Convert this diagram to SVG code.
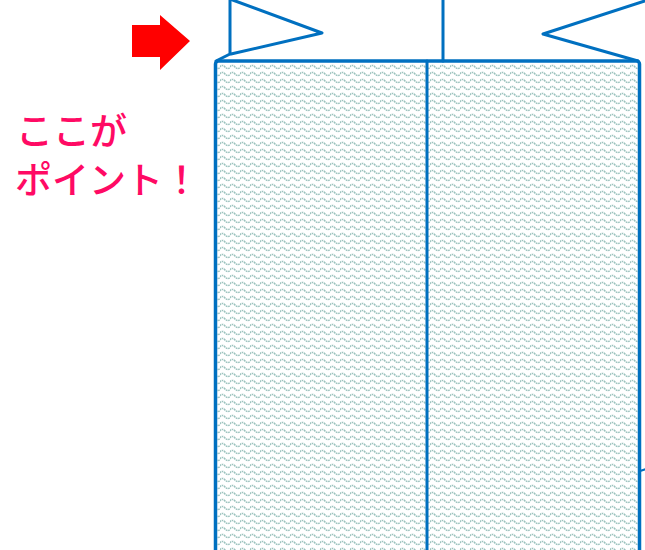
<svg xmlns="http://www.w3.org/2000/svg" width="645" height="550" viewBox="0 0 645 550">
  <style>
    .blue { fill: none; stroke: #0070c0; stroke-linejoin: round; stroke-linecap: round; }
    .panel { fill: url(#wave); stroke: #0070c0; stroke-linejoin: round; }
    .label { font-family: "Noto Sans CJK JP", "Noto Sans", sans-serif; font-size: 37px; font-weight: 500; fill: #ff0a64; }
  </style>
  <defs>
    <pattern id="wave" x="0" y="0" width="10" height="7" patternUnits="userSpaceOnUse">
      <path d="M-0.5,4 Q2.5,0.8 5,4 T10.5,4" fill="none" stroke="#9cc3be" stroke-width="1.5" stroke-dasharray="1.8 0.7"/>
    </pattern>
  </defs>
  <rect width="645" height="550" fill="#ffffff"/>
  <g id="arrow">
    <polygon points="132,25 160,25 160,15 190,41 160,70 160,57 132,57" fill="#ff0000"/>
  </g>
  <g id="text">
    <text class="label" x="16" y="145">ここが</text>
    <text class="label" x="15" y="194">ポイント！</text>
  </g>
  <g id="panels">
    <rect x="215.5" y="61" width="424" height="520" rx="3" class="panel" stroke-width="3.5"/>
    <line x1="427" y1="61" x2="427" y2="552" class="blue" stroke-width="3"/>
    <line x1="640" y1="471" x2="646" y2="469" class="blue" stroke-width="2"/>
  </g>
  <g id="flag-left">
    <path d="M230,-2 L230,54 L216,61" class="blue" stroke-width="3"/>
    <path d="M230,-1 L322,33 L231,54" class="blue" stroke-width="3"/>
  </g>
  <g id="flag-right">
    <line x1="443" y1="-2" x2="443" y2="61" class="blue" stroke-width="3"/>
    <path d="M660,-4 L543,34 L638,61" class="blue" stroke-width="3"/>
  </g>
</svg>
